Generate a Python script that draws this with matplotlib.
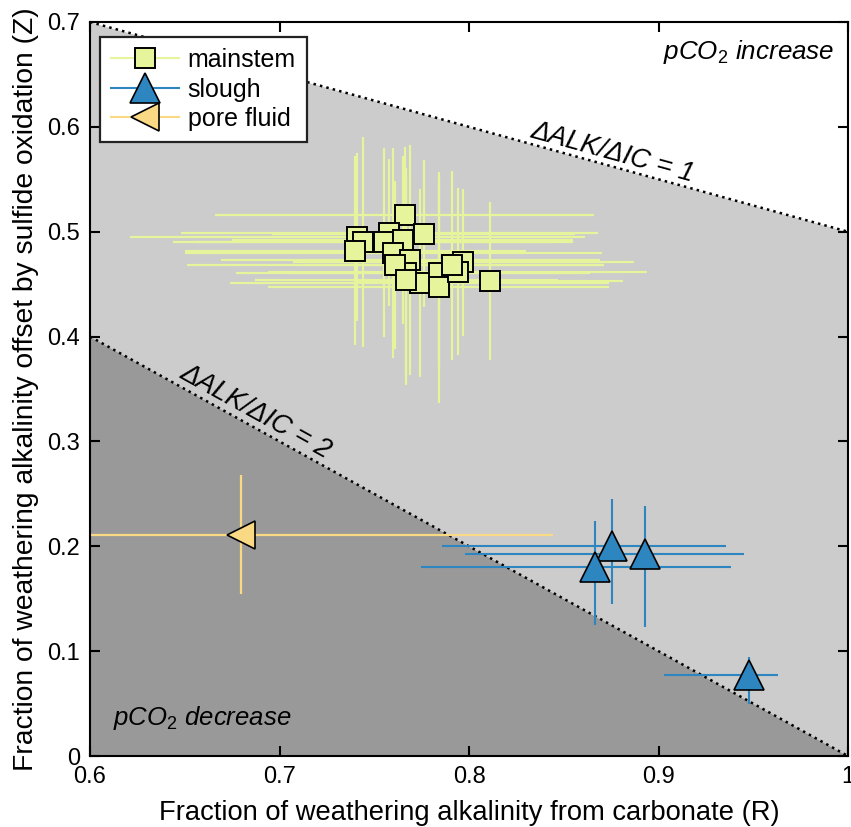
import matplotlib
matplotlib.use("Agg")
import matplotlib.pyplot as plt
from matplotlib.lines import Line2D
from matplotlib.ticker import FuncFormatter
import numpy as np

plt.rcParams['font.family'] = ['Liberation Sans', 'DejaVu Sans']
plt.rcParams['mathtext.fontset'] = 'custom'
plt.rcParams['mathtext.it'] = 'Liberation Sans:italic'
plt.rcParams['mathtext.rm'] = 'Liberation Sans'

# mainstem samples (R, Z) with symmetric errors
main_R = [0.766, 0.741, 0.744, 0.740, 0.758, 0.755, 0.765, 0.776, 0.760, 0.769,
          0.767, 0.774, 0.784, 0.784, 0.797, 0.794, 0.791, 0.811, 0.761, 0.767]
main_Z = [0.516, 0.495, 0.490, 0.482, 0.499, 0.490, 0.492, 0.498, 0.480, 0.473,
          0.461, 0.451, 0.461, 0.447, 0.471, 0.462, 0.468, 0.453, 0.468, 0.454]
main_Rerr = [0.10, 0.12, 0.10, 0.09, 0.11, 0.10, 0.09, 0.08, 0.11, 0.10,
             0.09, 0.10, 0.08, 0.09, 0.09, 0.10, 0.08, 0.07, 0.11, 0.08]
main_Zerr = [0.065, 0.08, 0.10, 0.09, 0.07, 0.09, 0.08, 0.07, 0.10, 0.11,
             0.10, 0.09, 0.09, 0.11, 0.07, 0.08, 0.09, 0.075, 0.08, 0.10]

# slough samples with asymmetric errors
slough_R = [0.8755, 0.893, 0.8665, 0.948]
slough_Z = [0.200, 0.193, 0.180, 0.077]
slough_Rlo = [0.090, 0.095, 0.092, 0.045]
slough_Rhi = [0.060, 0.052, 0.072, 0.015]
slough_Zlo = [0.055, 0.070, 0.055, 0.027]
slough_Zhi = [0.045, 0.045, 0.044, 0.017]

# pore fluid
pore_R = [0.6795]
pore_Z = [0.211]
pore_Rlo = [0.170]
pore_Rhi = [0.165]
pore_Zlo = [0.056]
pore_Zhi = [0.057]

c_main = '#E6F59C'
c_slough = '#2E86C1'
c_pore = '#FAD985'

fig = plt.figure(figsize=(8.51, 8.27), dpi=100)
ax = fig.add_axes([0.1058, 0.0858, 0.8907, 0.8876])

# background regions
R = np.array([0.6, 1.0])
z1 = 1 - R / 2      # dALK/dIC = 1
z2 = 1 - R          # dALK/dIC = 2
ax.fill_between(R, z2, z1, color='#CCCCCC', lw=0, zorder=0)
ax.fill_between(R, 0, z2, color='#999999', lw=0, zorder=0)
ax.plot(R, z1, color='black', ls=':', lw=1.8, zorder=1)
ax.plot(R, z2, color='black', ls=':', lw=1.8, zorder=1)

# error bars
ax.errorbar(main_R, main_Z, xerr=main_Rerr, yerr=main_Zerr, fmt='none',
            ecolor=c_main, elinewidth=1.6, capsize=0, zorder=2)
ax.errorbar(slough_R, slough_Z, xerr=[slough_Rlo, slough_Rhi],
            yerr=[slough_Zlo, slough_Zhi], fmt='none', ecolor=c_slough,
            elinewidth=1.5, capsize=0, zorder=2)
ax.errorbar(pore_R, pore_Z, xerr=[pore_Rlo, pore_Rhi], yerr=[pore_Zlo, pore_Zhi],
            fmt='none', ecolor=c_pore, elinewidth=1.6, capsize=0, zorder=2)

# markers
ax.plot(main_R, main_Z, 's', ms=14.5, mfc=c_main, mec='black', mew=1.4,
        ls='none', zorder=3)
ax.plot(slough_R, slough_Z, '^', ms=21, mfc=c_slough, mec='black', mew=1.2,
        ls='none', zorder=3)
ax.plot(pore_R, pore_Z, '<', ms=20, mfc=c_pore, mec='black', mew=1.2,
        ls='none', zorder=3)

ax.set_xlim(0.6, 1.0)
ax.set_ylim(0, 0.7)
ax.set_xticks(np.arange(0.6, 1.01, 0.1))
ax.set_yticks(np.arange(0, 0.71, 0.1))
fmt = FuncFormatter(lambda v, p: ('%.1f' % v).rstrip('0').rstrip('.') if v else '0')
ax.xaxis.set_major_formatter(fmt)
ax.yaxis.set_major_formatter(fmt)
ax.tick_params(direction='in', top=True, right=True, length=7, width=1.5,
               labelsize=17, pad=7)
for s in ax.spines.values():
    s.set_linewidth(1.5)

ax.set_xlabel('Fraction of weathering alkalinity from carbonate (R)', fontsize=19.7,
              labelpad=9)
ax.set_ylabel('Fraction of weathering alkalinity offset by sulfide oxidation (Z)',
              fontsize=20.3, labelpad=6)

# annotations
ax.text(0.993, 0.685, r'$pCO_2$ increase', style='italic', fontsize=18.7,
        ha='right', va='top')
ax.text(0.612, 0.023, r'$pCO_2$ decrease', style='italic', fontsize=18.5,
        ha='left', va='bottom')
ax.text(0.876, 0.5758, '\u0394ALK/\u0394IC = 1', style='italic', fontsize=19.5,
        rotation=-15.4, ha='center', va='center', rotation_mode='anchor')
ax.text(0.6876, 0.328, '\u0394ALK/\u0394IC = 2', style='italic', fontsize=19.5,
        rotation=-29, ha='center', va='center', rotation_mode='anchor')

handles = [
    Line2D([], [], color=c_main, lw=1.5, marker='s', ms=14.5, mfc=c_main, mec='black', mew=1.4),
    Line2D([], [], color=c_slough, lw=1.5, marker='^', ms=21, mfc=c_slough, mec='black', mew=1.2),
    Line2D([], [], color=c_pore, lw=1.5, marker='<', ms=20, mfc=c_pore, mec='black', mew=1.2),
]
leg = ax.legend(handles, ['mainstem', 'slough', 'pore fluid'], loc='upper left',
                bbox_to_anchor=(0.0132, 0.9796), fontsize=18, fancybox=False,
                edgecolor='#222222', framealpha=1, handlelength=2.7,
                borderpad=0.45, labelspacing=0.22, handletextpad=0.35,
                borderaxespad=0)
leg.get_frame().set_linewidth(1.6)

fig.savefig('out.png', dpi=100)
